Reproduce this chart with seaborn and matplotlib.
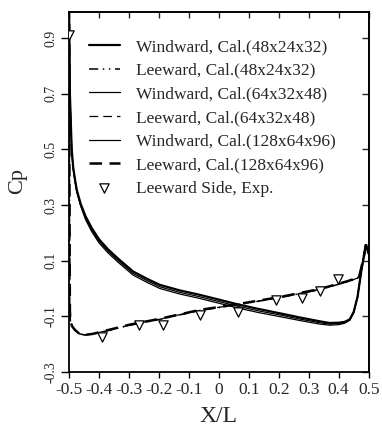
import numpy as np
import pandas as pd
import matplotlib
matplotlib.use("Agg")
import matplotlib.pyplot as plt
import seaborn as sns

sns.set_theme(style="ticks")
plt.rcParams["font.family"] = ["Liberation Serif", "DejaVu Serif"]

# Windward surface pressure (three grid resolutions)
ww_x = [-0.4995, -0.497, -0.491, -0.486, -0.48, -0.474, -0.461, -0.445, -0.424, -0.40,
        -0.37, -0.336, -0.286, -0.24, -0.197, -0.13, -0.063, 0.0, 0.059, 0.13,
        0.203, 0.27, 0.337, 0.37, 0.40, 0.42, 0.437, 0.45, 0.463, 0.476,
        0.484, 0.49, 0.495, 0.5]
ww_48 = [0.99, 0.70, 0.50, 0.435, 0.392, 0.354, 0.304, 0.260, 0.217, 0.177,
         0.141, 0.107, 0.061, 0.035, 0.013, -0.007, -0.023, -0.040, -0.056, -0.073,
         -0.089, -0.104, -0.118, -0.124, -0.123, -0.120, -0.111, -0.085, -0.030, 0.066,
         0.115, 0.156, 0.145, 0.125]
ww_64 = [0.99, 0.70, 0.50, 0.432, 0.388, 0.350, 0.300, 0.254, 0.210, 0.170,
         0.134, 0.100, 0.054, 0.028, 0.006, -0.014, -0.030, -0.047, -0.063, -0.080,
         -0.095, -0.110, -0.123, -0.128, -0.126, -0.122, -0.113, -0.086, -0.030, 0.066,
         0.115, 0.156, 0.145, 0.125]
ww_128 = [0.99, 0.70, 0.50, 0.429, 0.384, 0.346, 0.296, 0.248, 0.204, 0.164,
          0.128, 0.094, 0.048, 0.022, 0.000, -0.020, -0.036, -0.053, -0.069, -0.086,
          -0.101, -0.115, -0.128, -0.132, -0.130, -0.125, -0.114, -0.087, -0.031, 0.066,
          0.115, 0.156, 0.145, 0.125]

# Leeward surface pressure (three grid resolutions)
lw_x = [-0.4995, -0.499, -0.498, -0.497, -0.495, -0.49, -0.48, -0.465, -0.447, -0.42,
        -0.387, -0.297, -0.197, -0.063, 0.059, 0.203, 0.337, 0.426, 0.463, 0.47,
        0.481, 0.488, 0.492, 0.496, 0.5]
lw_48 = [0.95, 0.60, 0.20, -0.08, -0.115, -0.135, -0.149, -0.163, -0.167, -0.163,
         -0.156, -0.132, -0.111, -0.079, -0.059, -0.033, -0.004, 0.023, 0.036, 0.048,
         0.100, 0.135, 0.156, 0.145, 0.125]
lw_64 = [0.95, 0.60, 0.20, -0.08, -0.115, -0.135, -0.149, -0.163, -0.167, -0.163,
         -0.155, -0.131, -0.110, -0.078, -0.058, -0.032, -0.003, 0.024, 0.037, 0.048,
         0.100, 0.135, 0.156, 0.145, 0.125]
lw_128 = [0.95, 0.60, 0.20, -0.08, -0.115, -0.135, -0.149, -0.163, -0.167, -0.163,
          -0.154, -0.130, -0.109, -0.077, -0.057, -0.031, -0.002, 0.025, 0.038, 0.049,
          0.100, 0.135, 0.156, 0.145, 0.125]

# Measured leeward-side pressure
exp_x = [-0.5, -0.391, -0.266, -0.186, -0.063, 0.064, 0.192, 0.276, 0.337, 0.398]
exp_cp = [0.91, -0.173, -0.131, -0.131, -0.097, -0.083, -0.041, -0.035, -0.008, 0.033]

x_ticks = [-0.5, -0.4, -0.3, -0.2, -0.1, 0.0, 0.1, 0.2, 0.3, 0.4, 0.5]
x_tick_labels = ["-0.5", "-0.4", "-0.3", "-0.2", "-0.1", "0", "0.1", "0.2", "0.3", "0.4", "0.5"]
y_ticks = [-0.3, -0.1, 0.1, 0.3, 0.5, 0.7, 0.9]
y_tick_labels = ["-0.3", "-0.1", "0.1", "0.3", "0.5", "0.7", "0.9"]

series = [
    ("Windward, Cal.(48x24x32)", ww_x, ww_48, "-", 1.6),
    ("Leeward, Cal.(48x24x32)", lw_x, lw_48, (0, (6, 3, 1, 3, 1, 3)), 1.1),
    ("Windward, Cal.(64x32x48)", ww_x, ww_64, "-", 0.9),
    ("Leeward, Cal.(64x32x48)", lw_x, lw_64, (0, (7, 4)), 0.9),
    ("Windward, Cal.(128x64x96)", ww_x, ww_128, "-", 0.9),
    ("Leeward, Cal.(128x64x96)", lw_x, lw_128, (0, (5, 3)), 1.8),
]

fig = plt.figure(figsize=(3.82, 4.29), dpi=100)
ax = fig.add_axes([0.1806, 0.1329, 0.7844, 0.8391])

for label, xs, ys, ls, lw in series:
    df = pd.DataFrame({"x": xs, "cp": ys})
    sns.lineplot(data=df, x="x", y="cp", ax=ax, color="black", linestyle=ls,
                 linewidth=lw, sort=False, estimator=None, label=label)

exp_df = pd.DataFrame({"x": exp_x, "cp": exp_cp})
sns.scatterplot(data=exp_df, x="x", y="cp", ax=ax, marker="v", s=45,
                facecolor="white", edgecolor="black", linewidth=0.9,
                label="Leeward Side, Exp.", zorder=5)

ax.set_xlim(-0.5, 0.5)
ax.set_ylim(-0.3, 0.993)
ax.set_xticks(x_ticks)
ax.set_xticklabels(x_tick_labels, fontsize=12.5)
ax.set_yticks(y_ticks)
ax.set_yticklabels(y_tick_labels, fontsize=10, rotation=90, va="center")
ax.tick_params(axis="x", direction="out", length=4.5, width=1.0, color="black", pad=2.5)
ax.tick_params(axis="y", direction="out", length=5.5, width=1.0, color="black", pad=3)
ax.set_xlabel("X/L", fontsize=17)
ax.set_ylabel("Cp", fontsize=16)
ax.xaxis.set_label_coords(0.5, -0.095)
ax.yaxis.set_label_coords(-0.14, 0.53)

for sp in ax.spines.values():
    sp.set_linewidth(1.3)
    sp.set_color("black")

# inward ticks on the top and right edges
top = ax.secondary_xaxis("top")
top.set_xticks(x_ticks)
top.set_xticklabels([])
top.tick_params(direction="in", length=4, width=1.0)
right = ax.secondary_yaxis("right")
right.set_yticks(y_ticks)
right.set_yticklabels([])
right.tick_params(direction="in", length=5, width=1.0)

ax.legend(loc="upper left", bbox_to_anchor=(0.043, 0.944), frameon=False,
          fontsize=12.5, handlelength=1.8, handletextpad=0.92, labelspacing=0.43,
          borderaxespad=0.0)

fig.savefig("out.png", dpi=100)
